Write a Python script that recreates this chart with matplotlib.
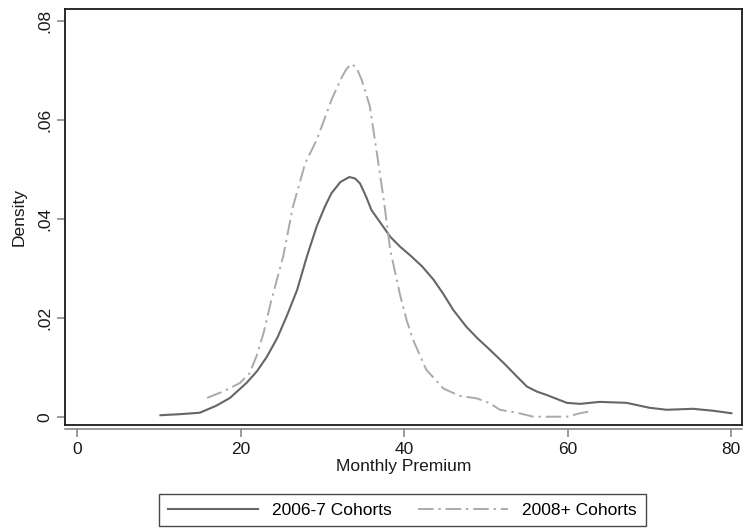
import matplotlib
matplotlib.use("Agg")
import matplotlib.pyplot as plt
from matplotlib.lines import Line2D

# Data (kernel density estimates)
x_0607 = [10.2, 12.5, 15.0, 17.0, 18.7, 20.7, 22.0, 23.2, 24.5, 25.6, 26.9, 28.1,
          29.3, 30.3, 31.1, 32.2, 33.3, 34.0, 34.6, 35.3, 36.0, 37.2, 38.3, 39.5,
          40.7, 42.2, 43.6, 44.8, 46.0, 47.6, 49.0, 50.5, 52.2, 53.8, 55.0, 56.2,
          57.4, 59.9, 61.5, 63.9, 67.2, 70.0, 72.1, 75.3, 77.8, 80.0]
y_0607 = [0.0003, 0.0005, 0.0008, 0.0022, 0.0038, 0.0068, 0.0092, 0.0121, 0.0160,
          0.0202, 0.0256, 0.0324, 0.0385, 0.0425, 0.0452, 0.0475, 0.0485, 0.0482,
          0.0472, 0.0447, 0.0418, 0.0390, 0.0364, 0.0344, 0.0327, 0.0304, 0.0277,
          0.0248, 0.0216, 0.0182, 0.0158, 0.0135, 0.0108, 0.0081, 0.0061, 0.0051,
          0.0044, 0.0028, 0.0026, 0.0030, 0.0028, 0.0018, 0.0014, 0.0016, 0.0012,
          0.0007]

x_2008 = [15.9, 18.0, 19.9, 21.1, 22.0, 22.8, 23.6, 24.4, 25.2, 26.4, 27.9, 29.3,
          30.2, 31.1, 32.4, 33.0, 33.6, 34.2, 34.8, 35.4, 35.8, 36.6, 37.5, 38.3,
          39.5, 40.3, 41.1, 42.7, 44.8, 46.8, 48.9, 50.5, 51.7, 53.8, 55.8, 59.9,
          61.5, 63.1]
y_2008 = [0.0038, 0.0052, 0.0068, 0.0088, 0.0125, 0.0169, 0.0225, 0.0275, 0.0324,
          0.0425, 0.0513, 0.0560, 0.0600, 0.0641, 0.0688, 0.0705, 0.0714, 0.0705,
          0.0682, 0.0650, 0.0628, 0.0540, 0.0439, 0.0337, 0.0246, 0.0195, 0.0155,
          0.0095, 0.0057, 0.0042, 0.0037, 0.0027, 0.0014, 0.0008, 0.0000, 0.0000,
          0.0007, 0.0012]

labels = ["2006-7 Cohorts", "2008+ Cohorts"]
x_ticks = [0, 20, 40, 60, 80]
y_ticks = [0, 0.02, 0.04, 0.06, 0.08]
y_ticklabels = ["0", ".02", ".04", ".06", ".08"]

plt.rcParams["font.family"] = ["Liberation Sans", "DejaVu Sans"]

W, H = 746, 529
fig = plt.figure(figsize=(W / 100, H / 100), dpi=100)
fig.patch.set_facecolor("white")
left, right, top, bottom = 65, 742, 9, 425
ax = fig.add_axes([left / W, 1 - bottom / H, (right - left) / W, (bottom - top) / H])

ax.plot(x_0607, y_0607, color="#666666", lw=1.5, ls="-", label=labels[0])
ax.plot(x_2008, y_2008, color="#aaaaaa", lw=1.4, ls=(0, (8, 2.5, 1.2, 2.5)), label=labels[1])

ax.set_xlim(-1.47, 81.3)
ax.set_ylim(-0.00168, 0.0825)

for s in ["top", "right", "left"]:
    ax.spines[s].set_color("#1a1a1a")
    ax.spines[s].set_linewidth(1.3)
ax.spines["bottom"].set_position(("outward", 3))
ax.spines["bottom"].set_color("#808080")
ax.spines["bottom"].set_linewidth(1.1)
# plot-region box bottom edge
ax.add_line(Line2D([0, 1], [0, 0], transform=ax.transAxes, color="#1a1a1a",
                   lw=1.3, clip_on=False))

ax.set_xticks(x_ticks)
ax.set_xticklabels([str(v) for v in x_ticks])
ax.set_yticks(y_ticks)
ax.set_yticklabels(y_ticklabels, rotation=90, va="center")
ax.tick_params(axis="x", length=6, width=1.1, color="#808080", labelsize=12.5, pad=3,
               labelcolor="#1a1a1a")
ax.tick_params(axis="y", length=6, width=1.1, color="#808080", labelsize=12.5, pad=3,
               labelcolor="#1a1a1a")

ax.set_xlabel("Monthly Premium", fontsize=12.5, labelpad=2, color="#1a1a1a")
ax.set_ylabel("Density", fontsize=12.5, labelpad=8, color="#1a1a1a")

leg = fig.legend(loc="center", bbox_to_anchor=(402.5 / W, 1 - 510 / H), ncol=2,
                 fontsize=12.5, frameon=True, fancybox=False, edgecolor="#1a1a1a",
                 handlelength=5.2, columnspacing=1.5, handletextpad=0.8,
                 borderpad=0.5, borderaxespad=0)
leg.get_frame().set_linewidth(1.0)

fig.savefig("out.png", dpi=100, facecolor="white")
